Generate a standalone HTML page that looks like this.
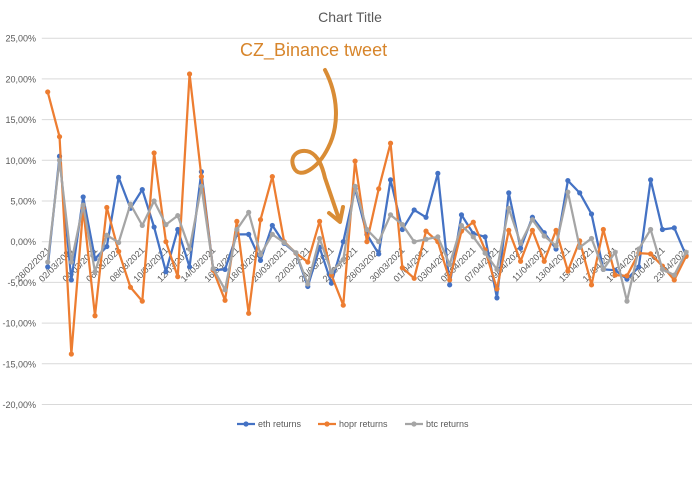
<!DOCTYPE html>
<html><head><meta charset="utf-8"><style>
body{margin:0;background:#fff;}
svg{display:block;font-family:"Liberation Sans",sans-serif;}
</style></head><body>
<svg id="chart" width="700" height="500">
<text x="350" y="22" text-anchor="middle" font-size="14" fill="#595959">Chart Title</text>
<g id="grid"></g><g id="ylab"></g><g id="xlab"></g><g id="series"></g>
<text x="240" y="56" font-size="18" fill="#D7852B">CZ_Binance tweet</text>
<path d="M325,70 C338,95 340,125 328,148 C318,168 300,180 294,168 C288,155 300,148 310,152 C318,156 322,165 325,178 L339,219" fill="none" stroke="#D98C35" stroke-width="4" stroke-linecap="round"/>
<polyline points="329,213 340,222 343,207" fill="none" stroke="#D98C35" stroke-width="4" stroke-linecap="round" stroke-linejoin="round"/>
<g id="legend"></g>
</svg>
<script>
const labels=["28/02/2021","02/03/2021","04/03/2021","06/03/2021","08/03/2021","10/03/2021","12/03/2021","14/03/2021","16/03/2021","18/03/2021","20/03/2021","22/03/2021","24/03/2021","26/03/2021","28/03/2021","30/03/2021","01/04/2021","03/04/2021","05/04/2021","07/04/2021","09/04/2021","11/04/2021","13/04/2021","15/04/2021","17/04/2021","19/04/2021","21/04/2021","23/04/2021"];
const yTicks=[25,20,15,10,5,0,-5,-10,-15,-20];
const eth=[-3.1,10.5,-4.7,5.5,-2.1,-0.6,7.9,4.1,6.4,1.8,-3.7,1.5,-3.1,8.6,-3.5,-3.4,0.9,0.9,-2.3,2.0,-0.2,-1.4,-5.5,-0.7,-5.1,0.0,6.5,0.9,-1.5,7.6,1.5,3.9,3.0,8.4,-5.3,3.3,1.0,0.6,-6.9,6.0,-0.8,3.0,1.1,-0.9,7.5,6.0,3.4,-3.4,-3.5,-4.6,-3.1,7.6,1.5,1.7,-1.7];
const hopr=[18.4,12.9,-13.8,4.1,-9.1,4.2,-1.2,-5.6,-7.3,10.9,0.0,-4.3,20.6,8.0,-3.5,-7.2,2.5,-8.8,2.7,8.0,0.0,-1.4,-2.5,2.5,-4.1,-7.8,9.9,0.0,6.5,12.1,-3.2,-4.5,1.3,0.0,-4.7,1.3,2.4,-1.0,-5.8,1.4,-2.4,1.4,-2.4,1.4,-3.6,0.1,-5.3,1.5,-4.1,-4.2,-1.4,-1.5,-3.0,-4.7,-1.8];
const btc=[-2.5,10.0,-2.5,4.5,-3.7,0.8,-0.1,4.6,2.0,5.0,2.1,3.2,-0.9,6.8,-3.3,-5.9,1.5,3.6,-1.6,0.9,-0.1,-1.35,-5.2,0.4,-3.7,-2.2,6.8,1.5,0.0,3.3,2.1,0.0,0.3,0.6,-2.8,2.0,0.6,-1.4,-3.4,4.1,-0.2,2.7,0.7,-0.5,6.1,-0.7,0.4,-3.4,-1.3,-7.3,-0.9,1.5,-3.4,-4.1,-1.3];
const NS="http://www.w3.org/2000/svg";
const L=41.8,R=692,n=eth.length,step=(R-L)/n;
const X=i=>L+step*(i+0.5);
const Y=v=>241.7-v*8.14;
function el(t,a,p){const e=document.createElementNS(NS,t);for(const k in a)e.setAttribute(k,a[k]);p.appendChild(e);return e;}
const grid=document.getElementById('grid'),ylab=document.getElementById('ylab'),xlab=document.getElementById('xlab'),ser=document.getElementById('series'),leg=document.getElementById('legend');
yTicks.forEach(t=>{
 const g=el('line',{x1:L,x2:R,y1:Y(t),y2:Y(t),stroke:'#D9D9D9','stroke-width':1},grid);
 
 
 const tx=el('text',{x:36,y:Y(t)+3.5,'text-anchor':'end','font-size':9,fill:'#595959'},ylab);
 tx.textContent=t.toFixed(2).replace('.',',')+'%';
 
 
});
labels.forEach((s,k)=>{
 const x=X(k*2),y=Y(0)+6;
 const tx=el('text',{x:x+3,y:y+3,'text-anchor':'end','font-size':9,fill:'#595959',transform:`rotate(-45 ${x+3} ${y+3})`},xlab);
 tx.textContent=s;
 
 
});
const defs=[['eth returns',eth,'#4472C4'],['hopr returns',hopr,'#ED7D31'],['btc returns',btc,'#A5A5A5']];
defs.forEach(([name,vals,c])=>{
 const g=el('g',{},ser);
 
 
 const pl=el('polyline',{points:vals.map((v,i)=>X(i)+','+Y(v)).join(' '),fill:'none',stroke:c,'stroke-width':2.25,'stroke-linejoin':'round'},g);
 
 
 vals.forEach((v,i)=>{
  const m=el('circle',{cx:X(i),cy:Y(v),r:2.6,fill:c},g);
  
  
 });
});
const lx=[237,318,405];
defs.forEach(([name,vals,c],k)=>{
 const g=el('g',{},leg);
 
 
 el('line',{x1:lx[k],x2:lx[k]+18,y1:424,y2:424,stroke:c,'stroke-width':2.25},g);
 el('circle',{cx:lx[k]+9,cy:424,r:2.6,fill:c},g);
 const t=el('text',{x:lx[k]+21,y:427,'font-size':9,fill:'#595959'},g);
 t.textContent=name;
});
</script>
</body></html>
